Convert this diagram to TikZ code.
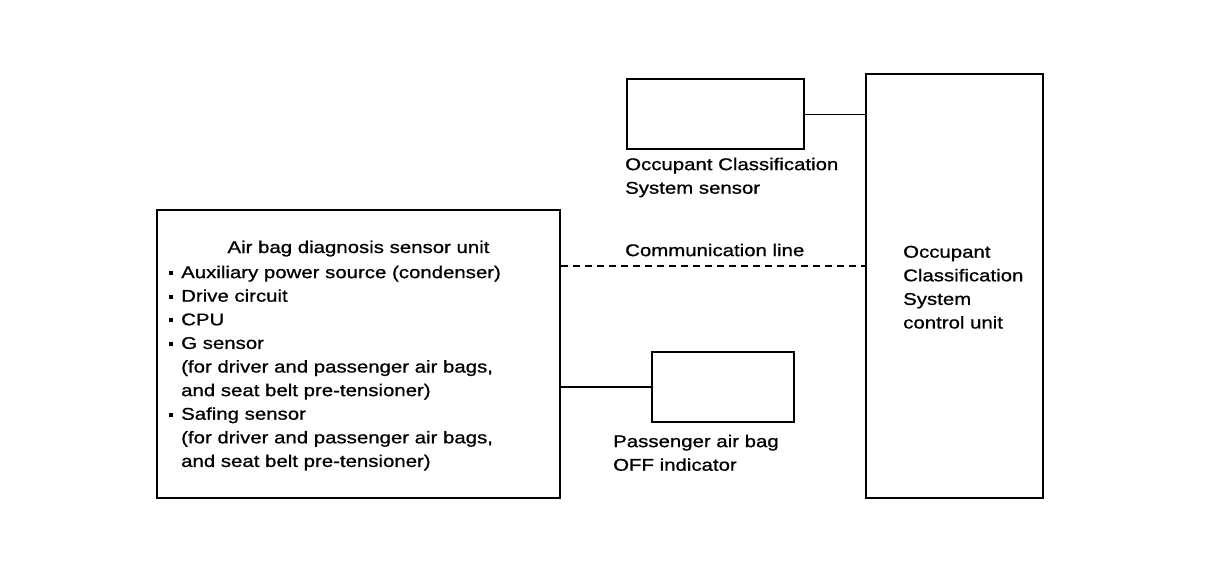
\documentclass[tikz,border=0pt]{standalone}
\usepackage{fontspec}
\setmainfont{Liberation Sans}[FakeStretch=1.2,FakeBold=0.9]
\newcommand\bul{\llap{\raisebox{3pt}{\rule{3.5pt}{4pt}}\hspace{8.5pt}}}
\begin{document}
\begin{tikzpicture}[x=1pt,y=-1pt,
  box/.style={draw,line width=2pt,inner sep=0pt},
  lbl/.style={inner sep=0pt,align=left,anchor=north west,font=\fontsize{17}{23.6}\selectfont},
  wire/.style={line width=2pt}]
\useasboundingbox (0,0) rectangle (1216,582);
% boxes
\node[box,minimum width=403pt,minimum height=288pt] (adsu) at (358.5,354) {};
\node[box,minimum width=177pt,minimum height=70pt] (ocss) at (715.5,114) {};
\node[box,minimum width=177pt,minimum height=424pt] (ocscu) at (954.5,286) {};
\node[box,minimum width=142pt,minimum height=70pt] (ind) at (723,387) {};
% texts
\node[inner sep=0pt,anchor=base,font=\fontsize{17}{23.6}\selectfont] (title) at (358.5,253) {Air bag diagnosis sensor unit};
\node[lbl] (list) at (181,265.6) {\bul Auxiliary power source (condenser)\\
\bul Drive circuit\\
\bul CPU\\
\bul G sensor\\
(for driver and passenger air bags,\\
and seat belt pre-tensioner)\\
\bul Safing sensor\\
(for driver and passenger air bags,\\
and seat belt pre-tensioner)};
\node[lbl] (ocsslbl) at (625,157.6) {Occupant Classification\\System sensor};
\node[lbl] (comm) at (625,243.6) {Communication line};
\node[lbl] (indlbl) at (613,434.6) {Passenger air bag\\OFF indicator};
\node[lbl] (cul) at (903,245.6) {Occupant\\Classification\\System\\control unit};
% connectors
\coordinate (cl) at (0,266);
\draw[line width=1pt] (ocss.east) -- (ocscu.west |- ocss.east);
\draw[line width=1.3pt,dash pattern=on 7pt off 5pt] (adsu.east |- cl) -- (ocscu.west |- cl);
\draw[wire] (adsu.east |- ind.west) -- (ind.west);
\end{tikzpicture}
\end{document}
